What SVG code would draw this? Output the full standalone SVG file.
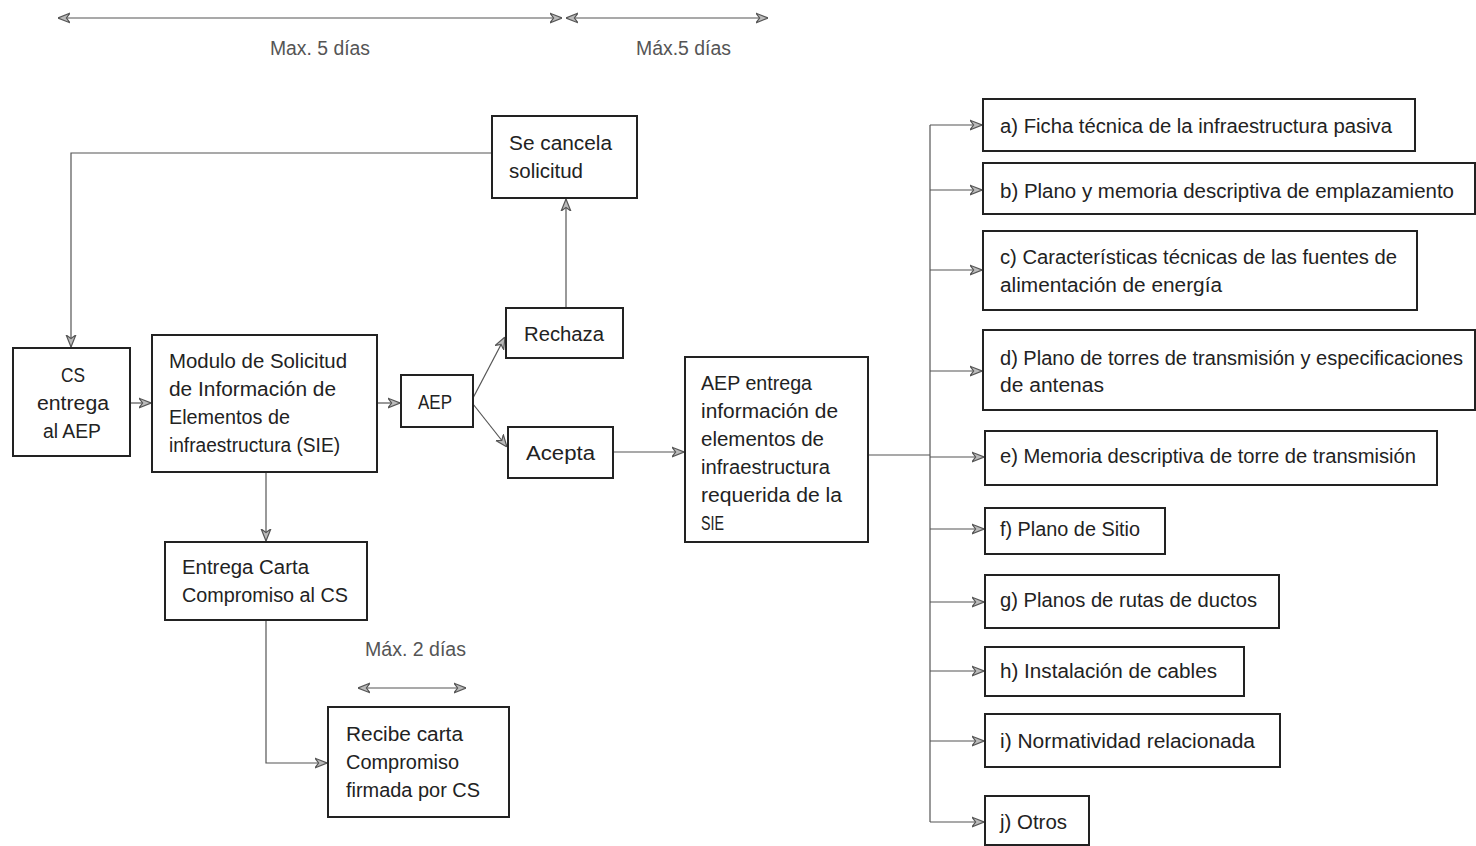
<svg xmlns="http://www.w3.org/2000/svg" width="1476" height="846" viewBox="0 0 1476 846">
<style>
.box{fill:#fff;stroke:#222;stroke-width:2}
.t{font-family:"Liberation Sans",Arial,sans-serif;font-size:20px;fill:#222}
.lab{font-family:"Liberation Sans",Arial,sans-serif;font-size:20px;fill:#555}
.c{fill:none;stroke:#555;stroke-width:1.2}
</style>
<defs>
<marker id="ah" viewBox="0 0 10 10" refX="10" refY="5" markerWidth="12" markerHeight="12" markerUnits="userSpaceOnUse" orient="auto-start-reverse">
<path d="M0,1 L10,5 L0,9 L3,5 Z" fill="#bbb" stroke="#555" stroke-width="1"/>
</marker>
</defs>
<rect width="1476" height="846" fill="#fff"/>
<g id="connectors">
<line class="c" x1="58" y1="18" x2="562" y2="18" marker-start="url(#ah)" marker-end="url(#ah)"/>
<line class="c" x1="566" y1="18" x2="768" y2="18" marker-start="url(#ah)" marker-end="url(#ah)"/>
<line class="c" x1="358" y1="688" x2="466" y2="688" marker-start="url(#ah)" marker-end="url(#ah)"/>
<polyline class="c" points="492,153 71,153 71,347" marker-end="url(#ah)"/>
<line class="c" x1="130" y1="403" x2="151" y2="403" marker-end="url(#ah)"/>
<line class="c" x1="377" y1="403" x2="400" y2="403" marker-end="url(#ah)"/>
<line class="c" x1="473" y1="398" x2="505" y2="337" marker-end="url(#ah)"/>
<line class="c" x1="473" y1="404" x2="507" y2="447" marker-end="url(#ah)"/>
<line class="c" x1="566" y1="308" x2="566" y2="199" marker-end="url(#ah)"/>
<line class="c" x1="613" y1="452" x2="684" y2="452" marker-end="url(#ah)"/>
<line class="c" x1="266" y1="472" x2="266" y2="541" marker-end="url(#ah)"/>
<polyline class="c" points="266,620 266,763 327,763" marker-end="url(#ah)"/>
<line class="c" x1="868" y1="455" x2="930" y2="455"/>
<line class="c" x1="930" y1="125" x2="930" y2="822"/>
<line class="c" x1="930" y1="125" x2="982" y2="125" marker-end="url(#ah)"/>
<line class="c" x1="930" y1="190" x2="982" y2="190" marker-end="url(#ah)"/>
<line class="c" x1="930" y1="270" x2="982" y2="270" marker-end="url(#ah)"/>
<line class="c" x1="930" y1="371" x2="982" y2="371" marker-end="url(#ah)"/>
<line class="c" x1="930" y1="457" x2="984" y2="457" marker-end="url(#ah)"/>
<line class="c" x1="930" y1="529" x2="984" y2="529" marker-end="url(#ah)"/>
<line class="c" x1="930" y1="602" x2="984" y2="602" marker-end="url(#ah)"/>
<line class="c" x1="930" y1="671" x2="984" y2="671" marker-end="url(#ah)"/>
<line class="c" x1="930" y1="741" x2="984" y2="741" marker-end="url(#ah)"/>
<line class="c" x1="930" y1="822" x2="984" y2="822" marker-end="url(#ah)"/>
</g>
<g id="labels">
<text class="lab" x="270" y="55" textLength="100" lengthAdjust="spacingAndGlyphs">Max. 5 días</text>
<text class="lab" x="636" y="55" textLength="95" lengthAdjust="spacingAndGlyphs">Máx.5 días</text>
<text class="lab" x="365" y="656" textLength="101" lengthAdjust="spacingAndGlyphs">Máx. 2 días</text>
</g>
<g id="n-cs">
<rect class="box" x="13" y="348" width="117" height="108"/>
<text class="t" x="61" y="382" textLength="24" lengthAdjust="spacingAndGlyphs">CS</text>
<text class="t" x="37" y="410" textLength="72" lengthAdjust="spacingAndGlyphs">entrega</text>
<text class="t" x="43" y="438" textLength="58" lengthAdjust="spacingAndGlyphs">al AEP</text>
</g>
<g id="n-modulo">
<rect class="box" x="152" y="335" width="225" height="137"/>
<text class="t" x="169" y="368" textLength="178" lengthAdjust="spacingAndGlyphs">Modulo de Solicitud</text>
<text class="t" x="169" y="396" textLength="167" lengthAdjust="spacingAndGlyphs">de Información de</text>
<text class="t" x="169" y="424" textLength="121" lengthAdjust="spacingAndGlyphs">Elementos de</text>
<text class="t" x="169" y="452" textLength="171" lengthAdjust="spacingAndGlyphs">infraestructura (SIE)</text>
</g>
<g id="n-aep">
<rect class="box" x="401" y="375" width="72" height="52"/>
<text class="t" x="418" y="409" textLength="34" lengthAdjust="spacingAndGlyphs">AEP</text>
</g>
<g id="n-cancela">
<rect class="box" x="492" y="116" width="145" height="82"/>
<text class="t" x="509" y="150" textLength="103" lengthAdjust="spacingAndGlyphs">Se cancela</text>
<text class="t" x="509" y="178" textLength="74" lengthAdjust="spacingAndGlyphs">solicitud</text>
</g>
<g id="n-rechaza">
<rect class="box" x="506" y="308" width="117" height="50"/>
<text class="t" x="524" y="341" textLength="80" lengthAdjust="spacingAndGlyphs">Rechaza</text>
</g>
<g id="n-acepta">
<rect class="box" x="508" y="427" width="105" height="51"/>
<text class="t" x="526" y="460" textLength="69" lengthAdjust="spacingAndGlyphs">Acepta</text>
</g>
<g id="n-entrega-info">
<rect class="box" x="685" y="357" width="183" height="185"/>
<text class="t" x="701" y="390" textLength="111" lengthAdjust="spacingAndGlyphs">AEP entrega</text>
<text class="t" x="701" y="418" textLength="137" lengthAdjust="spacingAndGlyphs">información de</text>
<text class="t" x="701" y="446" textLength="123" lengthAdjust="spacingAndGlyphs">elementos de</text>
<text class="t" x="701" y="474" textLength="129" lengthAdjust="spacingAndGlyphs">infraestructura</text>
<text class="t" x="701" y="502" textLength="141" lengthAdjust="spacingAndGlyphs">requerida de la</text>
<text class="t" x="701" y="530" textLength="23" lengthAdjust="spacingAndGlyphs">SIE</text>
</g>
<g id="n-carta">
<rect class="box" x="165" y="542" width="202" height="78"/>
<text class="t" x="182" y="574" textLength="127" lengthAdjust="spacingAndGlyphs">Entrega Carta</text>
<text class="t" x="182" y="602" textLength="166" lengthAdjust="spacingAndGlyphs">Compromiso al CS</text>
</g>
<g id="n-recibe">
<rect class="box" x="328" y="707" width="181" height="110"/>
<text class="t" x="346" y="741" textLength="117" lengthAdjust="spacingAndGlyphs">Recibe carta</text>
<text class="t" x="346" y="769" textLength="113" lengthAdjust="spacingAndGlyphs">Compromiso</text>
<text class="t" x="346" y="797" textLength="134" lengthAdjust="spacingAndGlyphs">firmada por CS</text>
</g>
<g id="n-a">
<rect class="box" x="983" y="99" width="432" height="52"/>
<text class="t" x="1000" y="133" textLength="392" lengthAdjust="spacingAndGlyphs">a) Ficha técnica de la infraestructura pasiva</text>
</g>
<g id="n-b">
<rect class="box" x="983" y="163" width="492" height="51"/>
<text class="t" x="1000" y="198" textLength="454" lengthAdjust="spacingAndGlyphs">b) Plano y memoria descriptiva de emplazamiento</text>
</g>
<g id="n-c">
<rect class="box" x="983" y="231" width="434" height="79"/>
<text class="t" x="1000" y="264" textLength="397" lengthAdjust="spacingAndGlyphs">c) Características técnicas de las fuentes de</text>
<text class="t" x="1000" y="292" textLength="222" lengthAdjust="spacingAndGlyphs">alimentación de energía</text>
</g>
<g id="n-d">
<rect class="box" x="983" y="330" width="492" height="80"/>
<text class="t" x="1000" y="365" textLength="463" lengthAdjust="spacingAndGlyphs">d) Plano de torres de transmisión y especificaciones</text>
<text class="t" x="1000" y="392" textLength="104" lengthAdjust="spacingAndGlyphs">de antenas</text>
</g>
<g id="n-e">
<rect class="box" x="985" y="431" width="452" height="54"/>
<text class="t" x="1000" y="463" textLength="416" lengthAdjust="spacingAndGlyphs">e) Memoria descriptiva de torre de transmisión</text>
</g>
<g id="n-f">
<rect class="box" x="985" y="508" width="180" height="46"/>
<text class="t" x="1000" y="536" textLength="140" lengthAdjust="spacingAndGlyphs">f) Plano de Sitio</text>
</g>
<g id="n-g">
<rect class="box" x="985" y="575" width="294" height="53"/>
<text class="t" x="1000" y="607" textLength="257" lengthAdjust="spacingAndGlyphs">g) Planos de rutas de ductos</text>
</g>
<g id="n-h">
<rect class="box" x="985" y="647" width="259" height="49"/>
<text class="t" x="1000" y="678" textLength="217" lengthAdjust="spacingAndGlyphs">h) Instalación de cables</text>
</g>
<g id="n-i">
<rect class="box" x="985" y="714" width="295" height="53"/>
<text class="t" x="1000" y="748" textLength="255" lengthAdjust="spacingAndGlyphs">i) Normatividad relacionada</text>
</g>
<g id="n-j">
<rect class="box" x="985" y="796" width="104" height="49"/>
<text class="t" x="1000" y="829" textLength="67" lengthAdjust="spacingAndGlyphs">j) Otros</text>
</g>
</svg>
